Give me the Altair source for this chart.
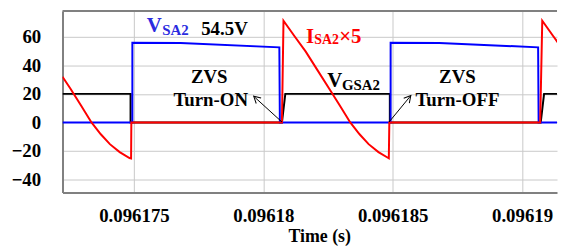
import altair as alt
import pandas as pd

# ---- data (time in s) ----
t_gate = [0.09617224, 0.09617487, 0.09617487, 0.09618072, 0.09618085, 0.09618489,
          0.09618489, 0.09619072, 0.09619085, 0.09619230]
v_gate = [20, 20, 0, 0, 20, 20, 0, 0, 20, 20]

t_vsa = [0.09617224, 0.09617494, 0.09617494, 0.09617680, 0.09618062, 0.09618064,
         0.09618492, 0.09618492, 0.09618680, 0.09619062, 0.09619064, 0.09619230]
v_vsa = [0, 0, 55.8, 55.6, 52.6, 0, 0, 55.8, 55.6, 52.6, 0, 0]

t_isa = [0.09617224, 0.09617253, 0.09617295, 0.09617336, 0.09617372, 0.09617407,
         0.09617445, 0.09617483, 0.09617489, 0.09617490, 0.09618072, 0.09618078,
         0.09618120, 0.09618164, 0.09618208, 0.09618253, 0.09618295, 0.09618336,
         0.09618372, 0.09618407, 0.09618445, 0.09618483, 0.09618485, 0.09618487,
         0.09619070, 0.09619078, 0.09619120, 0.09619164, 0.09619208]
v_isa = [32.0, 24.1, 12.0, 0, -8.3, -15.2, -20.8, -24.9, -25.2, 0, 0, 71.2,
         60.5, 49.6, 37.0, 24.1, 12.0, 0, -8.3, -15.2, -20.8, -24.9, -25.1, 0,
         0, 71.2, 60.5, 49.6, 37.0]

x_ticks = [0.096175, 0.09618, 0.096185, 0.09619]
y_ticks = [-40, -20, 0, 20, 40, 60]
x_domain = [0.09617224, 0.09619135]
y_domain = [-49, 78]

# annotations (left aligned)
ann_text = ["V", "SA2", "54.5V", "I", "SA2", "×5", "V", "GSA2"]
ann_t = [0.09617550, 0.09617609, 0.09617760, 0.09618165, 0.09618197, 0.09618293,
         0.09618247, 0.09618304]
ann_v = [63.5, 61.4, 61.4, 55.8, 55.1, 55.8, 24.6, 23.0]
ann_color = ["#2b2bdf", "#2b2bdf", "#000000", "#ff0000", "#ff0000", "#ff0000",
             "#000000", "#000000"]
ann_size = [21, 15, 19, 21, 14, 21, 21, 15]

# centred annotations
ctr_text = ["ZVS", "Turn-ON", "ZVS", "Turn-OFF"]
ctr_t = [0.09617791, 0.09617797, 0.09618750, 0.09618750]
ctr_v = [27.4, 11.4, 27.4, 11.4]

# arrows: tail -> head
arr_t = [0.09618072, 0.09618486]
arr_v = [0.3, 0.3]
arr_t2 = [0.09617963, 0.09618570]
arr_v2 = [18.3, 18.8]
arr_angle = [312, 40]

FONT = "Liberation Serif"
FRAME = "#808080"

X = alt.X("t:Q", scale=alt.Scale(domain=x_domain, nice=False, zero=False),
          axis=alt.Axis(values=x_ticks, format=".6~f", title="Time (s)",
                        labelFont=FONT, labelFontWeight="bold", labelFontSize=19,
                        labelColor="black", labelPadding=14, ticks=False,
                        domain=True, domainColor=FRAME, domainWidth=2,
                        grid=True, gridColor="#c8c8c8", gridWidth=1,
                        titleFont=FONT, titleFontWeight="bold", titleFontSize=18,
                        titleColor="black", titlePadding=3, titleX=259))
Y = alt.Y("v:Q", scale=alt.Scale(domain=y_domain, nice=False, zero=False),
          axis=alt.Axis(values=y_ticks, title=None,
                        labelFont=FONT, labelFontWeight="bold", labelFontSize=19,
                        labelColor="black", labelPadding=22, ticks=False,
                        domain=True, domainColor=FRAME, domainWidth=2,
                        grid=True, gridColor="#c8c8c8", gridWidth=1))


def line_layer(ts, vs, color):
    df = pd.DataFrame({"t": ts, "v": vs, "i": list(range(len(ts)))})
    return alt.Chart(df).mark_line(color=color, strokeWidth=2, clip=True).encode(
        x=X, y=Y, order="i:Q")


top = alt.Chart(pd.DataFrame({"v": [y_domain[1]]})).mark_rule(
    color=FRAME, strokeWidth=2).encode(y=Y)

gate = line_layer(t_gate, v_gate, "#000000")
vsa = line_layer(t_vsa, v_vsa, "#0000ff")
isa = line_layer(t_isa, v_isa, "#ff0000")

ann_df = pd.DataFrame({"t": ann_t, "v": ann_v, "label": ann_text,
                       "c": ann_color, "s": ann_size})
ann = alt.Chart(ann_df).mark_text(align="left", baseline="alphabetic", font=FONT,
                                  fontWeight="bold").encode(
    x=X, y=Y, text="label:N",
    color=alt.Color("c:N", scale=None),
    size=alt.Size("s:Q", scale=None))

ctr_df = pd.DataFrame({"t": ctr_t, "v": ctr_v, "label": ctr_text})
ctr = alt.Chart(ctr_df).mark_text(align="center", baseline="alphabetic", font=FONT,
                                  fontWeight="bold", fontSize=19, color="black").encode(
    x=X, y=Y, text="label:N")

arr_df = pd.DataFrame({"t": arr_t, "v": arr_v, "t2": arr_t2, "v2": arr_v2})
arr = alt.Chart(arr_df).mark_rule(color="black", strokeWidth=1).encode(
    x=X, y=Y, x2="t2:Q", y2="v2:Q")

head_df = pd.DataFrame({"t": arr_t2, "v": arr_v2, "a": arr_angle})
head = alt.Chart(head_df).mark_point(shape="M-0.55,1L0,0L0.55,1", filled=False,
                                     color="black", strokeWidth=1, size=180,
                                     opacity=1).encode(
    x=X, y=Y, angle=alt.Angle("a:Q", scale=None))

chart = alt.layer(top, gate, vsa, isa, arr, head, ann, ctr).properties(
    width=499, height=183,
    padding={"left": 3, "top": 1, "right": 0, "bottom": 0},
).configure_view(stroke=None)

chart.save("out.html", embed_options={"renderer": "svg", "actions": False})
